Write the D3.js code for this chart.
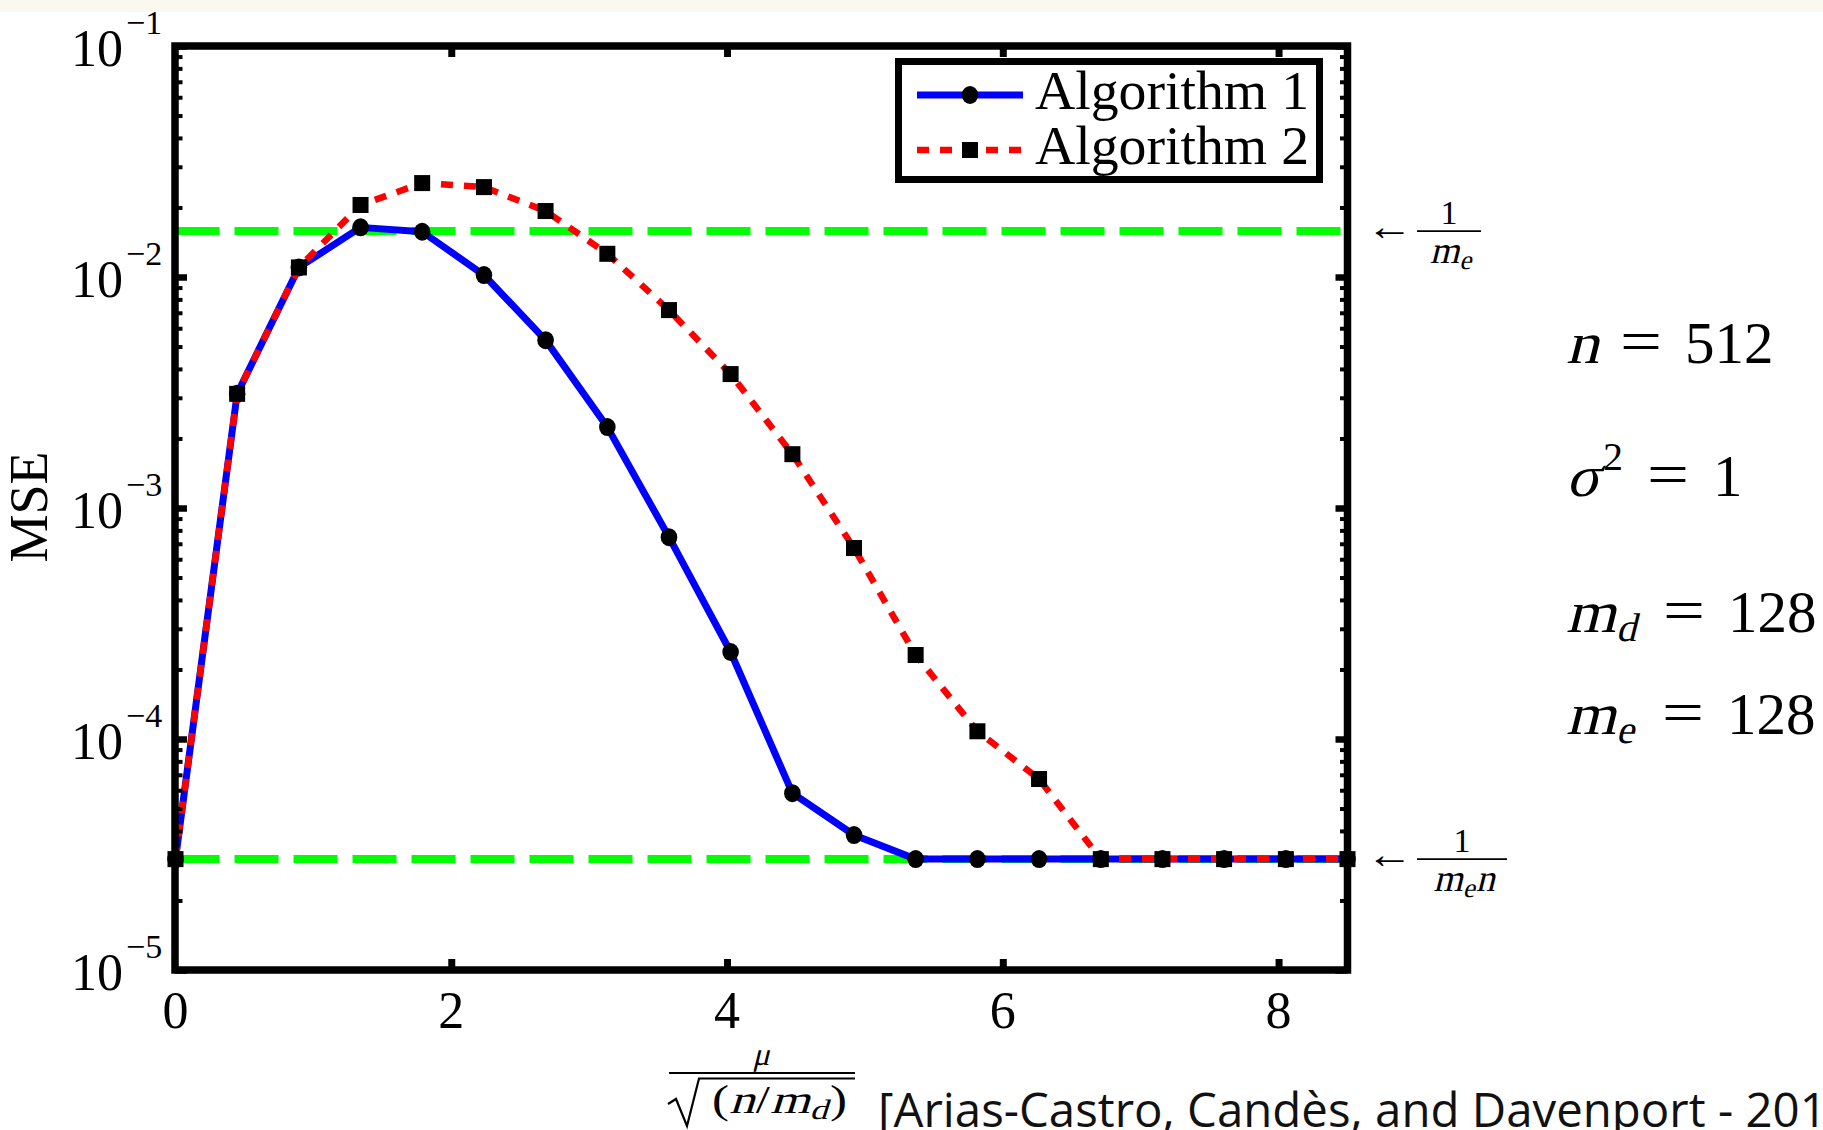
<!DOCTYPE html>
<html>
<head>
<meta charset="utf-8">
<script src="https://cdn.jsdelivr.net/npm/d3@7/dist/d3.min.js"></script>
<style>
  html, body { margin: 0; padding: 0; background: #fff; }
  svg { display: block; }
</style>
</head>
<body>
<div id="wrapper"></div>
<script>
// data
const muValues = [0, 0.447, 0.895, 1.342, 1.789, 2.237, 2.684, 3.132, 3.579, 4.026,
  4.474, 4.921, 5.368, 5.816, 6.263, 6.711, 7.158, 7.605, 8.053, 8.5];
const algorithm1 = [3.02e-5, 3.12e-3, 1.10e-2, 1.64e-2, 1.57e-2, 1.02e-2, 5.33e-3, 2.24e-3, 7.48e-4, 2.38e-4,
  5.83e-5, 3.84e-5, 3.02e-5, 3.02e-5, 3.02e-5, 3.02e-5, 3.02e-5, 3.02e-5, 3.02e-5, 3.02e-5];
const algorithm2 = [3.02e-5, 3.12e-3, 1.10e-2, 2.05e-2, 2.55e-2, 2.45e-2, 1.93e-2, 1.26e-2, 7.19e-3, 3.80e-3,
  1.71e-3, 6.71e-4, 2.31e-4, 1.08e-4, 6.71e-5, 3.02e-5, 3.02e-5, 3.02e-5, 3.02e-5, 3.02e-5];
const referenceLevels = [0.0158, 3.02e-5]; // 1/m_e and 1/(m_e n)
const seriesNames = ['Algorithm 1', 'Algorithm 2'];
const xTickValues = [0, 2, 4, 6, 8];
const yDecades = [1e-5, 1e-4, 1e-3, 1e-2, 1e-1];
const yExponents = ['−5', '−4', '−3', '−2', '−1'];
const parameters = [
  { name: 'n', sub: '', sup: '', value: '512' },
  { name: 'σ', sub: '', sup: '2', value: '1' },
  { name: 'm', sub: 'd', sup: '', value: '128' },
  { name: 'm', sub: 'e', sup: '', value: '128' },
];
const citation = '[Arias-Castro, Candès, and Davenport - 2011]';

const SERIF = "'Liberation Serif', 'Times New Roman', serif";
const SANS = "'Open Sans', 'Noto Sans', sans-serif";
const SLANT = -14; // synthetic math italic

const dimensions = {
  width: 1823,
  height: 1130,
  margin: { top: 46, right: 475.5, bottom: 160, left: 175 },
};
dimensions.boundedWidth = dimensions.width - dimensions.margin.left - dimensions.margin.right;
dimensions.boundedHeight = dimensions.height - dimensions.margin.top - dimensions.margin.bottom;

const svg = d3.select('#wrapper').append('svg')
  .attr('width', dimensions.width)
  .attr('height', dimensions.height);

svg.append('rect').attr('width', dimensions.width).attr('height', dimensions.height).attr('fill', '#fff');
svg.append('rect').attr('width', dimensions.width).attr('height', 12).attr('fill', '#fbf8f0');

// serif text; italic is drawn as slanted upright serif
function label(parent, x, y, str, size, italic) {
  const t = parent.append('text')
    .attr('font-family', SERIF)
    .attr('font-size', size)
    .attr('fill', '#000')
    .text(str);
  if (italic) t.attr('transform', `translate(${x}, ${y}) skewX(${SLANT})`);
  else t.attr('x', x).attr('y', y);
  return t;
}
// a run of pieces set side by side, optionally centred on x
function mathRun(parent, x, y, pieces, anchor) {
  const g = parent.append('g');
  let cx = 0;
  pieces.forEach(p => {
    const t = label(g, cx, p.dy || 0, p.t, p.size, p.it);
    cx += t.node().getComputedTextLength() + (p.gap || 0);
  });
  const shift = anchor === 'middle' ? -cx / 2 : 0;
  g.attr('transform', `translate(${x + shift}, ${y})`);
  return { g, width: cx };
}

const bounds = svg.append('g')
  .attr('transform', `translate(${dimensions.margin.left}, ${dimensions.margin.top})`);

// scales
const xScale = d3.scaleLinear().domain([0, 8.5]).range([0.5, dimensions.boundedWidth]);
const yScale = d3.scaleLog().domain([1e-5, 1e-1]).range([dimensions.boundedHeight, 0]);

// reference lines
bounds.selectAll('.ref').data(referenceLevels).join('line')
  .attr('class', 'ref')
  .attr('x1', xScale(0)).attr('x2', xScale(8.5))
  .attr('y1', d => yScale(d)).attr('y2', d => yScale(d))
  .attr('stroke', '#00ff00').attr('stroke-width', 8)
  .attr('stroke-dasharray', '44 15');

const points = (values) => values.map((v, i) => [muValues[i], v]);
const lineGenerator = d3.line().x(d => xScale(d[0])).y(d => yScale(d[1]));

// Algorithm 1
bounds.append('path')
  .attr('d', lineGenerator(points(algorithm1)))
  .attr('fill', 'none').attr('stroke', '#0000ff').attr('stroke-width', 7)
  .attr('stroke-linejoin', 'round');
bounds.selectAll('.dot').data(points(algorithm1)).join('ellipse')
  .attr('class', 'dot')
  .attr('cx', d => xScale(d[0])).attr('cy', d => yScale(d[1]))
  .attr('rx', 8.3).attr('ry', 9).attr('fill', '#000');

// Algorithm 2
bounds.append('path')
  .attr('d', lineGenerator(points(algorithm2)))
  .attr('fill', 'none').attr('stroke', '#ff0000').attr('stroke-width', 6.5)
  .attr('stroke-dasharray', '12 11');
const sq = 16;
bounds.selectAll('.sq').data(points(algorithm2)).join('rect')
  .attr('class', 'sq')
  .attr('x', d => xScale(d[0]) - sq / 2).attr('y', d => yScale(d[1]) - sq / 2)
  .attr('width', sq).attr('height', sq).attr('fill', '#000');

// ticks (inward on all four sides)
const majorY = yDecades;
const minorY = yScale.ticks().filter(t => !majorY.some(m => Math.abs(m - t) / m < 1e-6));
function tickAxis(axis, values, size, width, tx, ty) {
  const g = bounds.append('g')
    .attr('transform', `translate(${tx}, ${ty})`)
    .call(axis.tickValues(values).tickSize(size).tickFormat(''));
  g.select('.domain').remove();
  g.selectAll('.tick line').attr('stroke', '#000').attr('stroke-width', width);
  return g;
}
tickAxis(d3.axisRight(yScale), majorY, 12, 6.5, 0, 0);
tickAxis(d3.axisRight(yScale), minorY, 7.5, 4, 0, 0);
tickAxis(d3.axisLeft(yScale), majorY, 12, 6.5, dimensions.boundedWidth, 0);
tickAxis(d3.axisLeft(yScale), minorY, 7.5, 4, dimensions.boundedWidth, 0);
tickAxis(d3.axisTop(xScale), xTickValues.slice(1), 11, 7, 0, dimensions.boundedHeight);
tickAxis(d3.axisBottom(xScale), xTickValues.slice(1), 11, 7, 0, 0);

// frame
bounds.append('rect')
  .attr('x', 0).attr('y', 0)
  .attr('width', dimensions.boundedWidth).attr('height', dimensions.boundedHeight)
  .attr('fill', 'none').attr('stroke', '#000').attr('stroke-width', 7.5)
  .attr('stroke-linejoin', 'miter');

// x tick labels
xTickValues.forEach(d => {
  label(bounds, xScale(d), dimensions.boundedHeight + 58, String(d), 52).attr('text-anchor', 'middle');
});

// y tick labels 10^k
yDecades.forEach((d, i) => {
  const yy = yScale(d);
  label(bounds, -52, yy + 20, '10', 52).attr('text-anchor', 'end');
  label(bounds, -49, yy - 12, yExponents[i], 34);
});

// y axis label
label(svg, 0, 0, 'MSE', 54)
  .attr('transform', 'translate(47, 507) rotate(-90)')
  .attr('text-anchor', 'middle');

// x axis label: mu / sqrt((n/m_d))
const xl = svg.append('g');
mathRun(xl, 761, 1065, [{ t: 'μ', size: 32, it: true }], 'middle');
xl.append('line').attr('x1', 669).attr('x2', 855).attr('y1', 1073).attr('y2', 1073)
  .attr('stroke', '#000').attr('stroke-width', 2);
xl.append('path')
  .attr('d', 'M668,1104 L676,1099 L687,1126 L699,1078.5 L855,1078.5')
  .attr('fill', 'none').attr('stroke', '#000').attr('stroke-width', 2.2)
  .attr('stroke-linejoin', 'miter');
const denom = mathRun(xl, 712, 1113, [
  { t: '(', size: 40 },
  { t: 'n', size: 40, it: true, gap: 1 },
  { t: '/', size: 40 },
  { t: 'm', size: 40, it: true },
  { t: 'd', size: 28, it: true, dy: 6, gap: 2 },
  { t: ')', size: 40 },
]);
denom.g.attr('transform', `translate(712, 1113) scale(${135 / denom.width}, 1)`);

// legend
const legend = svg.append('g');
legend.append('rect')
  .attr('x', 898.5).attr('y', 61.5).attr('width', 421).attr('height', 118)
  .attr('fill', '#fff').attr('stroke', '#000').attr('stroke-width', 7);
const legendRows = [95, 150];
legend.append('line').attr('x1', 917).attr('x2', 1023).attr('y1', legendRows[0]).attr('y2', legendRows[0])
  .attr('stroke', '#0000ff').attr('stroke-width', 7);
legend.append('ellipse').attr('cx', 970).attr('cy', legendRows[0]).attr('rx', 8.3).attr('ry', 9).attr('fill', '#000');
legend.append('line').attr('x1', 917).attr('x2', 1023).attr('y1', legendRows[1]).attr('y2', legendRows[1])
  .attr('stroke', '#ff0000').attr('stroke-width', 6.5).attr('stroke-dasharray', '12 11');
legend.append('rect').attr('x', 970 - sq / 2).attr('y', legendRows[1] - sq / 2)
  .attr('width', sq).attr('height', sq).attr('fill', '#000');
seriesNames.forEach((name, i) => {
  label(legend, 1035, legendRows[i] + 14, name, 54)
    .attr('textLength', 274).attr('lengthAdjust', 'spacingAndGlyphs');
});

// right-hand annotations for the reference lines
const ann = svg.append('g');
function arrowLabel(level, denParts) {
  const yy = yScale(level) + dimensions.margin.top;
  label(ann, 1366, yy + 9, '←', 40).attr('textLength', 47).attr('lengthAdjust', 'spacingAndGlyphs');
  const w = denParts.length > 2 ? 90 : 64;
  ann.append('line').attr('x1', 1417).attr('x2', 1417 + w).attr('y1', yy).attr('y2', yy)
    .attr('stroke', '#000').attr('stroke-width', 1.6);
  label(ann, 1417 + w / 2, yy - 7, '1', 34).attr('text-anchor', 'middle');
  const pieces = [
    { t: denParts[0], size: 38, it: true },
    { t: denParts[1], size: 27, it: true, dy: 6, gap: 1 },
  ];
  if (denParts[2]) pieces.push({ t: denParts[2], size: 38, it: true });
  mathRun(ann, 1417 + w / 2 + 2, yy + 32, pieces, 'middle');
}
arrowLabel(referenceLevels[0], ['m', 'e']);
arrowLabel(referenceLevels[1], ['m', 'e', 'n']);

// parameter block
const paramBaselines = [363, 496, 632, 734];
const eqX = [1620, 1647, 1663, 1662];
const valX = [1685, 1713, 1728, 1727];
parameters.forEach((p, i) => {
  const by = paramBaselines[i];
  const g = svg.append('g');
  const nameW = p.name === 'm' ? 50 : 33;
  label(g, 1566, by, p.name, 59, true)
    .attr('textLength', nameW).attr('lengthAdjust', 'spacingAndGlyphs');
  if (p.sup) label(g, 1603, by - 26, p.sup, 40);
  if (p.sub) label(g, 1616, by + 9, p.sub, 40, true);
  label(g, eqX[i], by - 2, '=', 59).attr('textLength', 42).attr('lengthAdjust', 'spacingAndGlyphs');
  label(g, valX[i], by, p.value, 59);
});

// citation (runs off the right edge, as in the source slide)
const cite = svg.append('text')
  .attr('x', 878).attr('y', 1127)
  .attr('font-family', SANS).attr('font-size', 38).attr('fill', '#111')
  .text(citation);
const prefixLen = cite.node().getSubStringLength(0, citation.indexOf('2011') + 2);
cite.attr('font-size', 38 * 922 / prefixLen);
</script>
</body>
</html>
